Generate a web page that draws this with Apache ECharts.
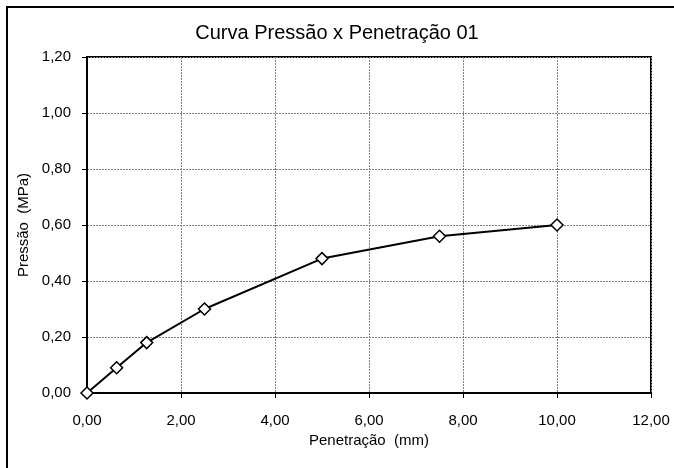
<!DOCTYPE html>
<html>
<head>
<meta charset="utf-8">
<script src="https://cdn.jsdelivr.net/npm/echarts@6/dist/echarts.min.js"></script>
<style>html,body{margin:0;padding:0;background:#fff}#c{width:674px;height:468px}</style>
</head>
<body>
<div id="c"></div>
<script>
const penetracao = [0, 0.63, 1.27, 2.5, 5.0, 7.5, 10.0];
const pressao = [0, 0.09, 0.18, 0.30, 0.48, 0.56, 0.60];
const titleText = 'Curva Pressão x Penetração 01';
const xName = 'Penetração  (mm)';
const yName = 'Pressão  (MPa)';

const fmt = v => v.toFixed(2).replace('.', ',');
const chart = echarts.init(document.getElementById('c'), null, {renderer: 'canvas'});
const font = 'Liberation Sans, Arial, sans-serif';
chart.setOption({
  animation: false,
  backgroundColor: '#fff',
  textStyle: {fontFamily: font},
  title: {text: titleText, left: 'center', top: 18, textStyle: {fontFamily: font, fontSize: 20, fontWeight: 'normal', color: '#000'}},
  graphic: [{type: 'rect', shape: {x: 7, y: 7, width: 700, height: 500}, style: {fill: null, stroke: '#000', lineWidth: 2}, silent: true}],
  grid: {left: 87, right: 23, top: 57, bottom: 75, show: true, borderColor: '#000', borderWidth: 2, backgroundColor: 'transparent'},
  xAxis: {
    type: 'value', min: 0, max: 12, interval: 2,
    name: xName, nameLocation: 'middle', nameGap: 39,
    nameTextStyle: {fontFamily: font, fontSize: 15, color: '#000'},
    axisLine: {show: true, lineStyle: {color: '#000', width: 2}},
    axisTick: {show: true, inside: false, length: 5, lineStyle: {color: '#000'}},
    axisLabel: {formatter: fmt, fontFamily: font, fontSize: 15, color: '#000', margin: 20},
    splitLine: {show: true, lineStyle: {color: '#808080', type: [2, 1], width: 1}}
  },
  yAxis: {
    type: 'value', min: 0, max: 1.2, interval: 0.2,
    name: yName, nameLocation: 'middle', nameGap: 50, nameRotate: 90,
    nameTextStyle: {fontFamily: font, fontSize: 15, color: '#000'},
    axisLine: {show: true, lineStyle: {color: '#000', width: 2}},
    axisTick: {show: true, inside: false, length: 5, lineStyle: {color: '#000'}},
    axisLabel: {formatter: fmt, fontFamily: font, fontSize: 15, color: '#000', margin: 16},
    splitLine: {show: true, lineStyle: {color: '#808080', type: [2, 1], width: 1}}
  },
  series: [{
    type: 'line',
    data: penetracao.map((x, i) => [x, pressao[i]]),
    symbol: 'diamond', symbolSize: 12,
    itemStyle: {color: '#fff', borderColor: '#000', borderWidth: 1.5},
    lineStyle: {color: '#000', width: 2},
    z: 5
  }]
});
</script>
</body>
</html>
